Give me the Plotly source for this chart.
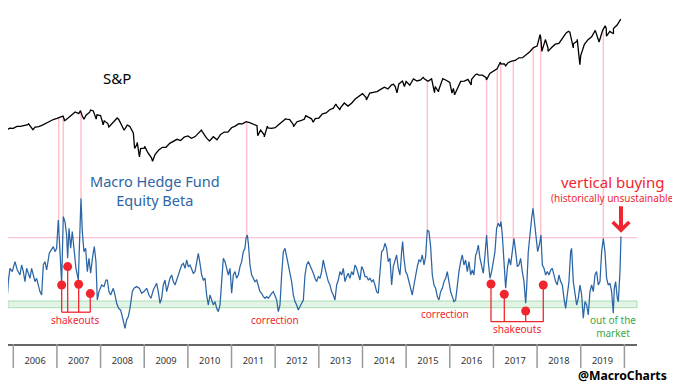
import numpy as np
import plotly.graph_objects as go

# ---------------- DATA ----------------
# S&P 500 month-end closes, Aug 2005 .. Nov 2019
sp_first_month = 2005 + 8 / 12
sp_closes = [
    1220.3, 1228.8, 1207.0, 1249.5, 1248.3,
    1280.1, 1280.7, 1294.8, 1310.6, 1270.1, 1270.2, 1276.7, 1303.8, 1335.9, 1377.9, 1400.6, 1418.3,
    1438.2, 1406.8, 1420.9, 1482.4, 1530.6, 1503.4, 1455.3, 1474.0, 1526.8, 1549.4, 1481.1, 1468.4,
    1378.6, 1330.6, 1322.7, 1385.6, 1400.4, 1280.0, 1267.4, 1282.8, 1166.4, 968.8, 896.2, 903.3,
    825.9, 735.1, 797.9, 872.8, 919.1, 919.3, 987.5, 1020.6, 1057.1, 1036.2, 1095.6, 1115.1,
    1073.9, 1104.5, 1169.4, 1186.7, 1089.4, 1030.7, 1101.6, 1049.3, 1141.2, 1183.3, 1180.6, 1257.6,
    1286.1, 1327.2, 1325.8, 1363.6, 1345.2, 1320.6, 1292.3, 1218.9, 1131.4, 1253.3, 1247.0, 1257.6,
    1312.4, 1365.7, 1408.5, 1397.9, 1310.3, 1362.2, 1379.3, 1406.6, 1440.7, 1412.2, 1416.2, 1426.2,
    1498.1, 1514.7, 1569.2, 1597.6, 1630.7, 1606.3, 1685.7, 1633.0, 1681.6, 1756.5, 1805.8, 1848.4,
    1782.6, 1859.5, 1872.3, 1884.0, 1923.6, 1960.2, 1930.7, 2003.4, 1972.3, 2018.1, 2067.6, 2058.9,
    1995.0, 2104.5, 2067.9, 2085.5, 2107.4, 2063.1, 2103.8, 1972.2, 1920.0, 2079.4, 2080.4, 2043.9,
    1940.2, 1932.2, 2059.7, 2065.3, 2097.0, 2098.9, 2173.6, 2171.0, 2168.3, 2126.2, 2198.8, 2238.8,
    2278.9, 2363.6, 2362.7, 2384.2, 2411.8, 2423.4, 2470.3, 2471.7, 2519.4, 2575.3, 2647.6, 2673.6,
    2823.8, 2713.8, 2640.9, 2648.1, 2705.3, 2718.4, 2816.3, 2901.5, 2914.0, 2711.7, 2760.2, 2506.9,
    2704.1, 2784.5, 2834.4, 2945.8, 2752.1, 2941.8, 2980.4, 2926.5, 2976.7, 3037.6, 3141.0,
]
# intra-month highs / lows (decimal year, level)
sp_extreme_t = [2006.35, 2006.45, 2007.14, 2007.17, 2007.54, 2007.62, 2007.77, 2007.90, 2008.06,
                2008.19, 2008.38, 2008.54, 2008.61, 2008.78, 2008.84, 2008.89, 2009.01, 2009.19,
                2010.31, 2010.50, 2011.33, 2011.60, 2011.75, 2011.82, 2012.25, 2012.42, 2012.70,
                2012.87, 2013.39, 2013.48, 2014.09, 2014.71, 2014.79, 2014.96, 2015.39, 2015.65,
                2015.74, 2015.84, 2016.05, 2016.11, 2016.49, 2016.62, 2016.84, 2017.16, 2017.28,
                2018.07, 2018.11, 2018.19, 2018.25, 2018.72, 2018.83, 2018.92, 2018.98, 2019.42,
                2019.56, 2019.59, 2019.75]
sp_extreme_v = [1326, 1223, 1459, 1374, 1553, 1406, 1565, 1407, 1310,
                1273, 1426, 1214, 1305, 899, 1005, 752, 935, 677,
                1217, 1022, 1364, 1119, 1099, 1285, 1419, 1278, 1466,
                1353, 1669, 1573, 1741, 2011, 1862, 1972, 2131, 1867,
                1881, 2109, 1859, 1829, 2000, 2190, 2085, 2396, 2329,
                2873, 2581, 2786, 2582, 2931, 2641, 2790, 2351, 2744,
                3026, 2844, 2887]

# Macro hedge fund equity beta (decimal year, beta)
beta_t = [
    2005.695, 2005.733, 2005.771, 2005.810, 2005.848, 2005.886, 2005.924, 2005.978, 2006.039, 2006.092,
    2006.153, 2006.191, 2006.230, 2006.268, 2006.306, 2006.344, 2006.382, 2006.420, 2006.459, 2006.497,
    2006.535, 2006.573, 2006.611, 2006.650, 2006.688, 2006.726, 2006.764, 2006.825, 2006.879, 2006.917,
    2006.955, 2006.993, 2007.031, 2007.054, 2007.085, 2007.108, 2007.146, 2007.184, 2007.222, 2007.245,
    2007.276, 2007.314, 2007.352, 2007.390, 2007.436, 2007.490, 2007.528, 2007.551, 2007.581, 2007.619,
    2007.658, 2007.696, 2007.734, 2007.772, 2007.818, 2007.856, 2007.894, 2007.925, 2007.963, 2008.024,
    2008.078, 2008.123, 2008.154, 2008.192, 2008.230, 2008.291, 2008.330, 2008.368, 2008.414, 2008.459,
    2008.498, 2008.536, 2008.559, 2008.597, 2008.635, 2008.673, 2008.727, 2008.765, 2008.826, 2008.887,
    2008.941, 2008.994, 2009.055, 2009.109, 2009.154, 2009.208, 2009.254, 2009.284, 2009.322, 2009.361,
    2009.399, 2009.437, 2009.476, 2009.514, 2009.552, 2009.590, 2009.628, 2009.666, 2009.705, 2009.743,
    2009.781, 2009.819, 2009.857, 2009.896, 2009.934, 2009.972, 2010.010, 2010.048, 2010.086, 2010.125,
    2010.163, 2010.201, 2010.239, 2010.277, 2010.316, 2010.354, 2010.392, 2010.430, 2010.468, 2010.506,
    2010.545, 2010.583, 2010.621, 2010.659, 2010.697, 2010.736, 2010.774, 2010.812, 2010.850, 2010.888,
    2010.927, 2010.965, 2011.003, 2011.041, 2011.079, 2011.117, 2011.156, 2011.194, 2011.232, 2011.270,
    2011.308, 2011.331, 2011.362, 2011.385, 2011.423, 2011.461, 2011.499, 2011.537, 2011.576, 2011.614,
    2011.652, 2011.690, 2011.728, 2011.767, 2011.805, 2011.843, 2011.881, 2011.919, 2011.957, 2011.996,
    2012.034, 2012.072, 2012.110, 2012.148, 2012.187, 2012.225, 2012.263, 2012.301, 2012.339, 2012.377,
    2012.416, 2012.454, 2012.492, 2012.530, 2012.568, 2012.607, 2012.645, 2012.683, 2012.721, 2012.759,
    2012.797, 2012.836, 2012.874, 2012.912, 2012.950, 2012.988, 2013.027,
    2013.064, 2013.102, 2013.141, 2013.179, 2013.217, 2013.255, 2013.293, 2013.331, 2013.370, 2013.408,
    2013.446, 2013.484, 2013.522, 2013.561, 2013.599, 2013.637, 2013.675, 2013.713, 2013.751, 2013.790,
    2013.828, 2013.866, 2013.904, 2013.942, 2013.981, 2014.019, 2014.057, 2014.095, 2014.133, 2014.171,
    2014.210, 2014.248, 2014.286, 2014.324, 2014.362, 2014.401, 2014.439, 2014.477, 2014.515, 2014.553,
    2014.591, 2014.630, 2014.668, 2014.706, 2014.744, 2014.782, 2014.821, 2014.859, 2014.897, 2014.920,
    2014.950, 2014.989, 2015.027, 2015.065, 2015.103, 2015.141, 2015.179, 2015.218, 2015.256, 2015.294,
    2015.332, 2015.370, 2015.409, 2015.447, 2015.485, 2015.523, 2015.561, 2015.600, 2015.638, 2015.676,
    2015.714, 2015.752, 2015.790, 2015.829, 2015.867, 2015.905, 2015.943, 2015.981, 2016.019, 2016.058,
    2016.096, 2016.134, 2016.172, 2016.210, 2016.249, 2016.287, 2016.325, 2016.363, 2016.401, 2016.440,
    2016.478, 2016.516, 2016.554, 2016.592,
    2016.615, 2016.653, 2016.692, 2016.730, 2016.768, 2016.806, 2016.844, 2016.882, 2016.921, 2016.959,
    2016.997, 2017.035, 2017.073, 2017.112, 2017.150, 2017.173, 2017.203, 2017.241, 2017.280, 2017.318,
    2017.356, 2017.394, 2017.432, 2017.470, 2017.509, 2017.547, 2017.585, 2017.623, 2017.661, 2017.700,
    2017.738, 2017.761, 2017.799, 2017.837, 2017.875, 2017.906, 2017.936, 2017.975, 2018.013, 2018.051,
    2018.089, 2018.120, 2018.158, 2018.196, 2018.234, 2018.272, 2018.311, 2018.349, 2018.387, 2018.425,
    2018.463, 2018.501, 2018.540, 2018.578, 2018.616, 2018.654, 2018.692, 2018.730, 2018.769, 2018.791,
    2018.830, 2018.868, 2018.906, 2018.944, 2018.982, 2019.021, 2019.059, 2019.097, 2019.135, 2019.173,
    2019.211, 2019.250, 2019.288, 2019.326, 2019.364, 2019.402, 2019.441, 2019.479, 2019.517, 2019.555,
    2019.593, 2019.631, 2019.670, 2019.708, 2019.746, 2019.769, 2019.799, 2019.838, 2019.861, 2019.899,
    2019.922,
]
beta_v = [
    0.293, -0.023, 0.193, 0.160, -0.023, 0.227, 0.360, 0.327, 0.427, 0.343,
    0.293, 0.393, 0.327, 0.227, 0.360, 0.310, 0.260, 0.360, 0.293, 0.227,
    0.260, 0.193, 0.127, 0.093, 0.393, 0.427, 0.343, 0.510, 0.543, 0.577,
    0.527, 0.560, 0.843, 0.627, 0.393, 0.210, 0.877, 0.827, 0.693, 0.460,
    0.760, 0.560, 0.727, 0.527, 0.360, 0.243, 0.693, 1.060, 0.727, 0.527,
    0.560, 0.327, 0.460, 0.310, 0.477, 0.577, 0.427, 0.043, 0.127, 0.193,
    0.177, 0.243, 0.243, 0.127, 0.093, 0.160, 0.093, 0.010, -0.040, -0.057,
    -0.123, -0.207, -0.240, -0.157, -0.123, -0.040, 0.127, 0.160, 0.177, 0.160,
    0.110, 0.127, 0.160, 0.093, 0.060, 0.143, 0.193, 0.210, 0.127, 0.010,
    0.060, 0.193, 0.243, 0.127, 0.193, 0.260, 0.293, 0.227, 0.193, 0.243,
    0.293, 0.360, 0.393, 0.410, 0.360, 0.443, 0.377, 0.393, 0.343, 0.310,
    0.327, 0.427, 0.510, 0.410, 0.293, 0.243, 0.260, 0.093, -0.007, 0.093,
    0.043, -0.007, 0.027, -0.040, -0.073, -0.007, 0.227, 0.460, 0.427, 0.360,
    0.293, 0.360, 0.110, 0.293, 0.327, 0.260, 0.293, 0.377, 0.427, 0.527,
    0.560, 0.660, 0.693, 0.610, 0.393, 0.293, 0.260, 0.227, 0.243, 0.193,
    0.127, 0.110, 0.077, 0.060, 0.077, 0.060, 0.093, 0.110, 0.127, 0.077,
    0.043, -0.073, -0.007, 0.293, 0.527, 0.560, 0.477, 0.393, 0.293, 0.227,
    0.093, 0.027, -0.007, -0.057, -0.023, 0.010, 0.043, 0.293, 0.393, 0.427,
    0.393, 0.360, 0.310, 0.260, 0.227, 0.277, 0.260,
    0.327, 0.443, 0.360, 0.293, 0.227, 0.193, 0.127, 0.093, 0.043, 0.193,
    0.243, 0.327, 0.293, 0.360, 0.227, 0.277, 0.310, 0.260, 0.327, 0.293,
    0.393, 0.360, 0.293, 0.243, 0.377, 0.343, 0.277, 0.277, 0.243, 0.260,
    0.227, 0.243, 0.193, 0.127, 0.110, 0.360, 0.527, 0.543, 0.610, 0.560,
    0.427, 0.460, 0.193, 0.377, 0.427, 0.493, 0.360, 0.293, 0.527, 0.627,
    0.460, 0.327, 0.293, 0.227, 0.160, 0.093, 0.193, 0.293, 0.377, 0.443,
    0.427, 0.493, 0.393, 0.477, 0.743, 0.727, 0.577, 0.293, 0.193, 0.160,
    0.077, 0.043, 0.127, 0.160, 0.227, 0.260, 0.327, 0.227, 0.127, 0.077,
    0.027, 0.043, 0.193, 0.327, 0.427, 0.493, 0.393, 0.443, 0.327, 0.427,
    0.293, 0.343, 0.293, 0.493,
    0.510, 0.593, 0.460, 0.377, 0.310, 0.493, 0.693, 0.427, 0.260, 0.327,
    0.427, 0.527, 0.760, 0.810, 0.777, 0.827, 0.693, 0.427, 0.160, 0.360,
    0.460, 0.393, 0.560, 0.660, 0.527, 0.377, 0.393, 0.460, 0.327, 0.227,
    0.010, 0.160, 0.527, 0.727, 0.860, 0.960, 0.827, 0.660, 0.527, 0.593,
    0.693, 0.393, 0.360, 0.293, 0.327, 0.293, 0.343, 0.360, 0.293, 0.227,
    0.193, 0.293, 0.227, 0.193, 0.060, -0.040, 0.093, 0.227, 0.527, 0.560,
    0.227, 0.127, -0.007, 0.060, 0.193, 0.093, -0.140, 0.027, -0.007, -0.107,
    0.127, 0.193, 0.127, 0.293, 0.327, 0.193, 0.227, 0.527, 0.660, 0.527,
    0.260, 0.193, 0.210, 0.127, -0.090, 0.160, 0.227, 0.060, 0.027, 0.327,
    0.677,
]

years = list(range(2006, 2020))
year_labels = [str(y) for y in years]

extreme_level = 0.667           # "historically unsustainable" beta level
out_band = (-0.034, 0.033)      # "out of the market" band

highlight_t = [2007.040, 2007.145, 2007.551, 2011.347, 2015.485, 2016.845,
               2017.088, 2017.166, 2017.455, 2017.913, 2018.082, 2019.517]

shakeout1_t = [2007.109, 2007.246, 2007.498, 2007.764]
shakeout1_v = [0.193, 0.377, 0.200, 0.107]
shakeout1_base = -0.079
shakeout2_t = [2016.944, 2017.249, 2017.739, 2018.142]
shakeout2_v = [0.203, 0.100, -0.067, 0.193]
shakeout2_base = -0.174

# ---------------- BUILD ----------------
sp_month_t = [sp_first_month + i / 12 for i in range(len(sp_closes))]
sp_t = np.array(sp_month_t + sp_extreme_t)
sp_v = np.array(sp_closes + sp_extreme_v)
order = np.argsort(sp_t)
sp_t, sp_v = sp_t[order], sp_v[order]

# page body has an 8px margin -> figure drawn 8px right/down of window origin
X_RANGE = [2005.879, 2020.289]
SP_RANGE = [-2490, 3333]
B_RANGE = [-0.397, 2.963]

RED = "#f0262e"
BLUE = "#2b65a5"
PINK = "#ffc3cf"
GRAY = "#9a9a9a"
AXIS = "#666666"
FONT = "Noto Sans"

fig = go.Figure()

fig.add_trace(go.Scatter(x=sp_t, y=sp_v, mode="lines", yaxis="y",
                         line=dict(color="black", width=1.3), hoverinfo="skip"))
fig.add_trace(go.Scatter(x=beta_t, y=beta_v, mode="lines", yaxis="y2",
                         line=dict(color=BLUE, width=1.25), hoverinfo="skip"))


def bracket(ts, vs, base):
    xs, ys = [], []
    for t, v in zip(ts, vs):
        xs += [t, t, None]
        ys += [v, base, None]
    xs += [ts[0], ts[-1]]
    ys += [base, base]
    return xs, ys


for ts, vs, base in [(shakeout1_t, shakeout1_v, shakeout1_base),
                     (shakeout2_t, shakeout2_v, shakeout2_base)]:
    bx, by = bracket(ts, vs, base)
    fig.add_trace(go.Scatter(x=bx, y=by, mode="lines", yaxis="y2",
                             line=dict(color=RED, width=1.3), hoverinfo="skip"))
    fig.add_trace(go.Scatter(x=ts, y=vs, mode="markers", yaxis="y2",
                             marker=dict(color=RED, size=9), hoverinfo="skip"))

shapes = []
shapes.append(dict(type="rect", xref="paper", x0=0, x1=1, yref="y2",
                   y0=out_band[0], y1=out_band[1], fillcolor="rgba(150,215,165,0.28)",
                   line=dict(color="#a9dcb3", width=1), layer="below"))
shapes.append(dict(type="line", xref="paper", x0=0, x1=1, yref="y2",
                   y0=extreme_level, y1=extreme_level, line=dict(color=PINK, width=1.2),
                   layer="below"))
for t in highlight_t:
    sv = np.interp(t, sp_t, sp_v)
    bv = np.interp(t, beta_t, beta_v)
    p_top = (sv - SP_RANGE[0]) / (SP_RANGE[1] - SP_RANGE[0])
    p_bot = (bv - B_RANGE[0]) / (B_RANGE[1] - B_RANGE[0])
    shapes.append(dict(type="line", xref="x", x0=t, x1=t, yref="paper",
                       y0=p_bot, y1=p_top, line=dict(color=PINK, width=1.5), layer="below"))
for y in years + [2020]:
    shapes.append(dict(type="line", xref="x", x0=y, x1=y, yref="paper",
                       y0=0, y1=-0.0714, line=dict(color=GRAY, width=1.5)))


def label(text, x, y, size, color, xref="x"):
    return dict(text=text, x=x, y=y, xref=xref, yref="paper", showarrow=False,
                xanchor="center", yanchor="middle",
                font=dict(family=FONT, size=size, color=color))


ann = [
    label("S&P", 2008.376, 0.792, 15, "black"),
    label("Macro Hedge Fund<br>Equity Beta", 2009.24, 0.458, 14.5, BLUE),
    label("vertical buying", 2019.73, 0.482, 15, RED),
    label("(historically unsustainable)", 2019.755, 0.4345, 10, RED),
    label("shakeouts", 2007.414, 0.0714, 10, RED),
    label("correction", 2011.995, 0.0714, 10, RED),
    label("correction", 2015.879, 0.0893, 10, RED),
    label("shakeouts", 2017.533, 0.0437, 10, RED),
    label("out of the<br>market", 2019.75, 0.052, 10, "#3aa843"),
    label("<b>@MacroCharts</b>", 0.977, -0.0923, 12.2, "black", xref="paper"),
]
ann.append(dict(text="", x=beta_t[-1], y=0.715, xref="x", yref="y2", showarrow=True,
                ax=0, ay=-28, arrowhead=4, arrowsize=0.8, arrowwidth=4, arrowcolor=RED))

fig.update_layout(
    width=672, height=375,
    margin=dict(l=0, r=43, t=0, b=39),
    paper_bgcolor="white", plot_bgcolor="white",
    showlegend=False,
    shapes=shapes, annotations=ann,
    xaxis=dict(range=X_RANGE, showgrid=False, zeroline=False, showline=True,
               linecolor=AXIS, linewidth=2, ticks="",
               tickvals=[y + 0.5 for y in years], ticktext=year_labels,
               tickfont=dict(family=FONT, size=9.3, color="#333"),
               ticklabelstandoff=7),
    yaxis=dict(range=SP_RANGE, visible=False),
    yaxis2=dict(range=B_RANGE, visible=False, overlaying="y"),
)

fig.write_html("out.html")
